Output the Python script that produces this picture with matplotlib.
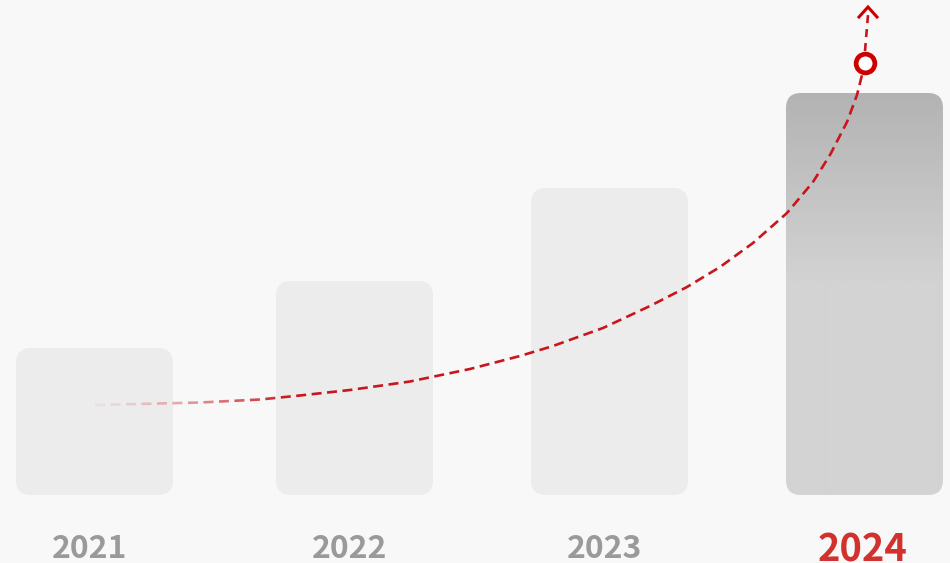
import numpy as np
import matplotlib
matplotlib.use("Agg")
import matplotlib.pyplot as plt
from matplotlib.patches import FancyBboxPatch
from matplotlib.collections import LineCollection

# data
years = ["2021", "2022", "2023", "2024"]
values = [147, 214, 307, 402]          # bar heights (px units of the canvas)
highlight = "2024"

# trend curve (canvas px, y grows downward)
trend_x = [95, 200, 260, 300, 350, 410, 470, 520, 553, 603, 650, 687, 720, 753, 787, 813, 830, 847, 857, 865]
trend_y = [405, 402.5, 399.5, 395.5, 390, 381.5, 369, 356, 346, 328, 306, 287, 267, 243, 213, 182, 155, 122, 95, 63]

BG = "#f8f8f8"
BAR = "#ececec"
RED_LINE = "#c8161d"
RED_RING = "#cc0000"
RED_TEXT = "#d2322d"
GREY_TEXT = "#9a9a9a"

W, H = 950, 563
slot_centers = [94.5, 354.5, 609.5, 864.5]
bar_w, baseline, radius = 157, 495, 15
FONT = ["Noto Sans CJK SC", "DejaVu Sans"]

fig = plt.figure(figsize=(W / 100, H / 100), dpi=100, facecolor=BG)
ax = fig.add_axes([0, 0, 1, 1])
ax.set_xlim(0, W)
ax.set_ylim(H, 0)
ax.set_facecolor(BG)
ax.axis("off")

for cx, year, v in zip(slot_centers, years, values):
    x0, top = cx - bar_w / 2, baseline - v
    box = FancyBboxPatch((x0, top), bar_w, v,
                         boxstyle=f"round,pad=0,rounding_size={radius}",
                         linewidth=0, facecolor=BAR, zorder=1)
    ax.add_patch(box)
    if year == highlight:
        box.set_facecolor("none")
        rows = np.arange(v)
        shade = np.clip(0xb3 + (0xd3 - 0xb3) * rows / 190.0, 0xb3, 0xd3) / 255.0
        grad = np.repeat(shade[:, None], 2, axis=1)
        grad = np.dstack([grad, grad, grad])
        im = ax.imshow(grad, extent=(x0, x0 + bar_w, baseline, top), origin="upper",
                       aspect="auto", interpolation="bilinear", zorder=1)
        im.set_clip_path(box)
        ax.text(cx - 2, 561, year, ha="center", va="baseline", fontsize=27.4,
                fontweight="bold", color=RED_TEXT, family=FONT)
    else:
        ax.text(cx - 5, 558, year, ha="center", va="baseline", fontsize=23,
                fontweight="bold", color=GREY_TEXT, family=FONT)


def dash_segments(xs, ys, on=10.0, off=5.5):
    xs, ys = np.asarray(xs, float), np.asarray(ys, float)
    seg = np.hypot(np.diff(xs), np.diff(ys))
    s = np.concatenate([[0], np.cumsum(seg)])
    out = []
    start = 0.0
    while start < s[-1]:
        end = min(start + on, s[-1])
        ts = np.linspace(start, end, 5)
        out.append(np.column_stack([np.interp(ts, s, xs), np.interp(ts, s, ys)]))
        start += on + off
    return out


# main trend line with fade-in at the start
segs = dash_segments(trend_x, trend_y)
alphas = [float(np.clip(0.06 + 0.94 * ((sg[0, 0] - trend_x[0]) / 190.0) ** 1.3, 0.06, 1.0))
          for sg in segs]
colors = [matplotlib.colors.to_rgba(RED_LINE, a) for a in alphas]
ax.add_collection(LineCollection(segs, colors=colors, linewidths=1.9, capstyle="butt", zorder=3))

# continuation above the end marker with chevron
ex, ey = trend_x[-1], trend_y[-1]
tip_x, tip_y = ex + 3, ey - 56
tail = dash_segments([ex, tip_x], [ey - 12, tip_y + 8], on=8, off=6)
ax.add_collection(LineCollection(tail, colors=RED_LINE, linewidths=1.9, zorder=3))
ax.plot([tip_x - 9, tip_x, tip_x + 9], [tip_y + 10, tip_y, tip_y + 10],
        color=RED_RING, lw=2.2, solid_joinstyle="miter", zorder=4)

ax.plot([ex], [ey], marker="o", markersize=13.5, markerfacecolor="white",
        markeredgecolor=RED_RING, markeredgewidth=3.4, zorder=5)

fig.savefig("out.png", dpi=100, facecolor=BG)
